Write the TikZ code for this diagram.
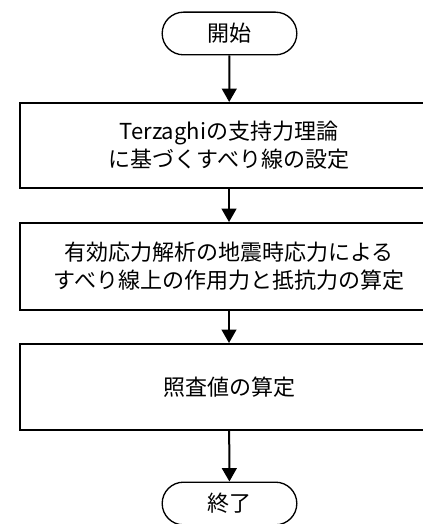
\documentclass[tikz,border=0pt]{standalone}
\usepackage{fontspec}
\setmainfont{Noto Sans CJK JP}
\usetikzlibrary{arrows.meta}
\begin{document}
\begin{tikzpicture}[x=0.75pt,y=-0.75pt,
  term/.style={draw, line width=1pt, rounded corners=16pt, minimum width=101pt, minimum height=32pt, inner sep=0pt, font=\fontsize{16.5pt}{19.5pt}\selectfont},
  procbox/.style={draw, line width=1.5pt, minimum width=313.5pt, inner sep=0pt, align=center, font=\fontsize{16.5pt}{21pt}\selectfont},
  flow/.style={line width=1.5pt, -{Triangle[width=11pt,length=10pt]}}]
\useasboundingbox (0,0) rectangle (423,524);
\node[term] (start) at (229.5,33.5) {開始};
\node[procbox, minimum height=63.75pt] (b1) at (229,145.5) {Terzaghiの支持力理論\\に基づくすべり線の設定};
\node[procbox, minimum height=65.25pt] (b2) at (229,266.5) {有効応力解析の地震時応力による\\すべり線上の作用力と抵抗力の算定};
\node[procbox, minimum height=64.5pt] (b3) at (229,387) {照査値の算定};
\node[term] (end) at (229.5,503.5) {終了};
\draw[flow] (start) -- (b1);
\draw[flow] (b1) -- (b2);
\draw[flow] (b2) -- (b3);
\draw[flow] (b3) -- (end);
\end{tikzpicture}
\end{document}
